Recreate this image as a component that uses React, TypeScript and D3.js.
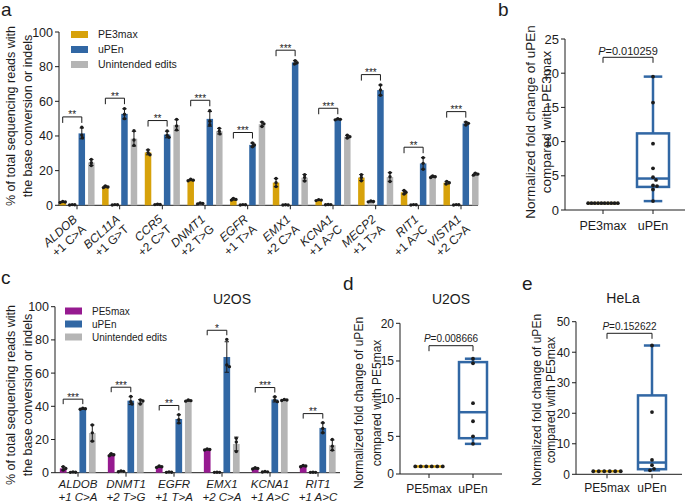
import React from "react";
import * as d3 from "d3";

const FONT = "'Liberation Sans', Arial, Helvetica, sans-serif";
const GOLD = "#D7A20B";
const BLUE = "#3167A4";
const GRAY = "#B5B5B5";
const PURPLE = "#961A90";
const INK = "#1c1c1c";

// ---------- Panel a ----------
const genesA = ["ALDOB", "BCL11A", "CCR5", "DNMT1", "EGFR", "EMX1", "KCNA1", "MECP2", "RIT1", "VISTA1"];
const editsA = ["+1 C>A", "+1 G>T", "+2 C>T", "+2 T>G", "+1 T>A", "+2 C>A", "+1 A>C", "+1 T>A", "+1 A>C", "+2 C>A"];
const pe3maxA = [[2.2, 1.9, 1.6], [11.2, 10.6, 10.2], [32, 30.4, 29.2], [15, 14.5, 14.2], [4, 3.4, 3.0], [15.5, 13, 10.8], [3.3, 3, 2.7], [17.7, 16.1, 14.2], [8.5, 7.5, 6.5], [13.8, 13, 12.3]];
const pe3maxUnintendedA = [[0.4, 0.3, 0.2], [0.4, 0.3, 0.2], [0.6, 0.5, 0.4], [1.3, 1.0, 0.8], [0.4, 0.3, 0.2], [0.3, 0.2, 0.2], [0.5, 0.4, 0.3], [2.5, 2.2, 2.0], [0.4, 0.3, 0.2], [0.4, 0.3, 0.2]];
const uPEnA = [[45, 40.5, 39], [55.8, 52.5, 50], [42.9, 40.4, 39.2], [54.6, 48.5, 46.5], [36, 34.8, 33.8], [83.5, 82.3, 81.5], [50, 49.6, 49.3], [69.4, 66.5, 63.5], [27.5, 24.2, 20.8], [48, 47.3, 46.3]];
const uPEnUnintendedA = [[26.5, 24.6, 23], [43, 37.7, 34.6], [49.6, 45.8, 43.5], [44.4, 42.7, 41.2], [48, 47, 45.5], [17.7, 16.1, 14], [40.4, 39.6, 38.8], [18.8, 16.5, 13.7], [17, 16.5, 16], [18.5, 18, 17.4]];
const sigA = ["**", "**", "**", "***", "***", "***", "***", "***", "**", "***"];
const yTicksA = [0, 20, 40, 60, 80, 100];
const legendA = ["PE3max", "uPEn", "Unintended edits"];

// ---------- Panel c ----------
const genesC = ["ALDOB", "DNMT1", "EGFR", "EMX1", "KCNA1", "RIT1"];
const editsC = ["+1 C>A", "+2 T>G", "+1 T>A", "+2 C>A", "+1 A>C", "+1 A>C"];
const pe5maxC = [[3.6, 2.6, 1.6], [11.4, 10.8, 10.2], [4, 3.6, 3.2], [14.3, 14, 13.7], [3, 2.6, 2.2], [4.4, 4, 3.6]];
const pe5maxUnintendedC = [[0.4, 0.3, 0.2], [1, 0.8, 0.6], [0.4, 0.3, 0.2], [0.3, 0.2, 0.2], [0.7, 0.5, 0.4], [0.3, 0.2, 0.2]];
const uPEnC = [[38.8, 38.5, 38.2], [46, 42.8, 41.4], [35, 32, 30], [80.3, 64.9, 63.9], [45.8, 43.8, 42.8], [30.1, 26.7, 24.1]];
const uPEnUnintendedC = [[28.7, 24, 19], [43.8, 43.2, 41.4], [43.8, 43.4, 43.1], [20.7, 18.5, 12.7], [44.1, 43.8, 43.5], [20, 16, 13.7]];
const sigC = ["***", "***", "**", "*", "***", "**"];
const yTicksC = [0, 20, 40, 60, 80, 100];
const legendC = ["PE5max", "uPEn", "Unintended edits"];
const titleC = "U2OS";

// ---------- Panel b ----------
const groupsB = ["PE3max", "uPEn"];
const pe3maxB = [1, 1, 1, 1, 1, 1, 1, 1, 1, 1];
const uPEnB = [19.5, 15.7, 9.7, 6.1, 4.8, 4.4, 3.6, 3.5, 3.0, 1.3];
const pB = "0.010259";
const yTicksB = [0, 5, 10, 15, 20, 25];

// ---------- Panel d ----------
const groupsD = ["PE5max", "uPEn"];
const pe5maxD = [1, 1, 1, 1, 1, 1];
const uPEnD = [15.3, 14.7, 9.4, 7.0, 5.0, 4.0];
const pD = "0.008666";
const yTicksD = [0, 5, 10, 15, 20];
const titleD = "U2OS";

// ---------- Panel e ----------
const groupsE = ["PE5max", "uPEn"];
const pe5maxE = [1, 1, 1, 1, 1, 1];
const uPEnE = [42.2, 20.4, 4.7, 3.0, 1.8, 1.3];
const pE = "0.152622";
const yTicksE = [0, 10, 20, 30, 40, 50];
const titleE = "HeLa";

const yLabelBar = ["% of total sequencing reads with", "the base conversion or indels"];
const yLabelBoxB = ["Normalized fold change of uPEn", "compared with PE3max"];
const yLabelBoxDE = ["Normalized fold change of uPEn", "compared with PE5max"];

// ---------- helpers ----------
function swarm(ys: number[], s: number): number[] {
  const placed: { x: number; y: number }[] = [];
  const offs: number[] = [];
  const step = s / 4;
  ys.forEach((y) => {
    let chosen = 0;
    for (let k = 0; k < 200; k++) {
      const cands = k === 0 ? [0] : [k * step, -k * step];
      let ok = false;
      for (const c of cands) {
        if (placed.every((p) => (p.x - c) ** 2 + (p.y - y) ** 2 >= s * s - 1e-6)) {
          chosen = c;
          ok = true;
          break;
        }
      }
      if (ok) break;
    }
    placed.push({ x: chosen, y });
    offs.push(chosen);
  });
  const groups = d3.group(ys.map((y, i) => i), (i) => Math.round(ys[i] * 10) / 10);
  groups.forEach((idx) => {
    if (idx.length > 1) {
      const m = d3.mean(idx, (i) => offs[i]) as number;
      idx.forEach((i) => (offs[i] -= m));
    }
  });
  return offs;
}

function prismQ(vals: number[], p: number): number {
  const s = [...vals].sort((a, b) => a - b);
  const n = s.length;
  let pos = p * (n + 1);
  if (pos < 1) pos = 1;
  if (pos > n) pos = n;
  const lo = Math.floor(pos);
  const frac = pos - lo;
  if (lo >= n) return s[n - 1];
  return s[lo - 1] + frac * (s[lo] - s[lo - 1]);
}

type BarProps = {
  x0: number; xEnd: number; yZero: number; yTop: number;
  c0: number; c1: number;
  genes: string[]; edits: string[];
  series: number[][][]; colors: string[];
  offsets: number[]; barW: number;
  sig: string[]; sigPad: number; legLen: number;
  ticks: number[]; tickFont: number;
  legend: string[]; legendColors: string[];
  legX: number; legY: number; legStep: number; legFont: number;
  rotated: boolean; labelFont: number; labelOff: number;
  yLabX: number[]; yLabCy: number; yLabFont: number;
};

function BarPanel(p: BarProps) {
  const y = d3.scaleLinear().domain([0, 100]).range([p.yZero, p.yTop]);
  const x = d3.scalePoint<string>().domain(p.genes).range([p.c0, p.c1]);
  const els: React.ReactNode[] = [];
  p.genes.forEach((g, gi) => {
    const cx = x(g) as number;
    p.series.forEach((ser, si) => {
      const pts = ser[gi];
      const m = d3.mean(pts) as number;
      const sd = (d3.deviation(pts) as number) || 0;
      const bx = cx + p.offsets[si];
      els.push(
        <rect key={`b${gi}-${si}`} x={bx - p.barW / 2} y={y(m)} width={p.barW} height={p.yZero - y(m)} fill={p.colors[si]} />
      );
      els.push(
        <g key={`e${gi}-${si}`} stroke={INK} strokeWidth={1}>
          <line x1={bx} x2={bx} y1={y(m + sd)} y2={y(Math.max(0, m - sd))} />
          <line x1={bx - 2.2} x2={bx + 2.2} y1={y(m + sd)} y2={y(m + sd)} />
          <line x1={bx - 2.2} x2={bx + 2.2} y1={y(Math.max(0, m - sd))} y2={y(Math.max(0, m - sd))} />
        </g>
      );
      const ys = pts.map((v) => y(v));
      const offs = swarm(ys, 2.6);
      pts.forEach((v, k) => {
        els.push(<circle key={`p${gi}-${si}-${k}`} cx={bx + offs[k]} cy={y(v)} r={1.7} fill={INK} />);
      });
    });
    const up = p.series[2][gi];
    const top = Math.max(d3.max(up) as number, (d3.mean(up) as number) + ((d3.deviation(up) as number) || 0));
    const by = y(top + p.sigPad);
    const xa = cx + p.offsets[0];
    const xb = cx + p.offsets[2];
    els.push(
      <path key={`s${gi}`} d={`M${xa},${by + p.legLen}V${by}H${xb}V${by + p.legLen}`} fill="none" stroke={INK} strokeWidth={1} />
    );
    els.push(
      <text key={`st${gi}`} x={(xa + xb) / 2} y={by + 1.5} textAnchor="middle" fontSize={10} fill={INK}>
        {p.sig[gi]}
      </text>
    );
    els.push(<line key={`xt${gi}`} x1={cx} x2={cx} y1={p.yZero} y2={p.yZero + 4} stroke={INK} strokeWidth={1} />);
    if (p.rotated) {
      els.push(
        <text key={`xl${gi}`} transform={`translate(${cx + 1},${p.yZero + p.labelOff}) rotate(-42)`} textAnchor="end" fontSize={p.labelFont} fill={INK}>
          <tspan x={0} dy={0} fontStyle="italic">{g}</tspan>
          <tspan x={0} dy="1.1em">{p.edits[gi]}</tspan>
        </text>
      );
    } else {
      els.push(
        <g key={`xl${gi}`}>
          <text x={cx} y={p.yZero + p.labelOff} textAnchor="middle" fontSize={p.labelFont} fontStyle="italic" fill={INK}>{g}</text>
          <text x={cx} y={p.yZero + p.labelOff + p.labelFont * 1.12} textAnchor="middle" fontSize={p.labelFont} fontStyle="italic" fill={INK}>{p.edits[gi]}</text>
        </g>
      );
    }
  });
  return (
    <g>
      <line x1={p.x0} x2={p.x0} y1={p.yTop} y2={p.yZero} stroke={INK} strokeWidth={1} />
      <line x1={p.x0} x2={p.xEnd} y1={p.yZero} y2={p.yZero} stroke={INK} strokeWidth={1} />
      {p.ticks.map((t) => (
        <g key={`yt${t}`}>
          <line x1={p.x0 - 4} x2={p.x0} y1={y(t)} y2={y(t)} stroke={INK} strokeWidth={1} />
          <text x={p.x0 - 6} y={y(t)} dy="0.36em" textAnchor="end" fontSize={p.tickFont} fill={INK}>{t}</text>
        </g>
      ))}
      {els}
      {p.legend.map((l, i) => (
        <g key={`lg${i}`}>
          <rect x={p.legX} y={p.legY + i * p.legStep - 3.5} width={17} height={7} fill={p.legendColors[i]} />
          <text x={p.legX + 27} y={p.legY + i * p.legStep} dy="0.36em" fontSize={p.legFont} fill={INK}>{l}</text>
        </g>
      ))}
      <text transform={`translate(0,${p.yLabCy}) rotate(-90)`} textAnchor="middle" fontSize={p.yLabFont} fill={INK}>
        <tspan x={0} y={p.yLabX[0]} dy="0.36em">{yLabelBar[0]}</tspan>
        <tspan x={0} y={p.yLabX[1]} dy="0.36em">{yLabelBar[1]}</tspan>
      </text>
    </g>
  );
}

type BoxProps = {
  x0: number; xEnd: number; yZero: number; yTop: number; yMax: number;
  ticks: number[]; c: number[]; boxW: number; groups: string[];
  ctrl: number[]; up: number[]; pText: string;
  pBase: number; bracketY: number; legLen: number; pFont: number;
  tickFont: number; labelFont: number; labelBase: number;
  yLab: string[]; yLabX: number[]; yLabCy: number; yLabFont: number;
  dotS: number;
};

function BoxPanel(p: BoxProps) {
  const y = d3.scaleLinear().domain([0, p.yMax]).range([p.yZero, p.yTop]);
  const x = d3.scalePoint<string>().domain(p.groups).range([p.c[0], p.c[1]]);
  const cC = x(p.groups[0]) as number;
  const cU = x(p.groups[1]) as number;
  const q1 = prismQ(p.up, 0.25), med = prismQ(p.up, 0.5), q3 = prismQ(p.up, 0.75);
  const mn = d3.min(p.up) as number, mx = d3.max(p.up) as number;
  const capW = p.boxW * 0.58;
  const hw = p.boxW / 2;
  const offC = swarm(p.ctrl.map((v) => y(v)), p.dotS);
  const offU = swarm(p.up.map((v) => y(v)), 4);
  const cMed = prismQ(p.ctrl, 0.5);
  return (
    <g>
      <line x1={p.x0} x2={p.x0} y1={p.yTop} y2={p.yZero} stroke={INK} strokeWidth={1} />
      <line x1={p.x0} x2={p.xEnd} y1={p.yZero} y2={p.yZero} stroke={INK} strokeWidth={1} />
      {p.ticks.map((t) => (
        <g key={`yt${t}`}>
          <line x1={p.x0 - 4} x2={p.x0} y1={y(t)} y2={y(t)} stroke={INK} strokeWidth={1} />
          <text x={p.x0 - 6} y={y(t)} dy="0.36em" textAnchor="end" fontSize={p.tickFont} fill={INK}>{t}</text>
        </g>
      ))}
      {[cC, cU].map((cx, i) => (
        <g key={`xt${i}`}>
          <line x1={cx} x2={cx} y1={p.yZero} y2={p.yZero + 4} stroke={INK} strokeWidth={1} />
          <text x={cx} y={p.labelBase} textAnchor="middle" fontSize={p.labelFont} fill={INK}>{p.groups[i]}</text>
        </g>
      ))}
      <line x1={cC - hw} x2={cC + hw} y1={y(cMed)} y2={y(cMed)} stroke={GOLD} strokeWidth={2.5} />
      <g stroke={BLUE} strokeWidth={2.5} fill="none">
        <line x1={cU} x2={cU} y1={y(q3)} y2={y(mx)} />
        <line x1={cU} x2={cU} y1={y(q1)} y2={y(mn)} />
        <line x1={cU - capW / 2} x2={cU + capW / 2} y1={y(mx)} y2={y(mx)} />
        <line x1={cU - capW / 2} x2={cU + capW / 2} y1={y(mn)} y2={y(mn)} />
        <rect x={cU - hw} y={y(q3)} width={p.boxW} height={y(q1) - y(q3)} fill="#fff" />
        <line x1={cU - hw} x2={cU + hw} y1={y(med)} y2={y(med)} />
      </g>
      {p.ctrl.map((v, i) => (
        <circle key={`c${i}`} cx={cC + offC[i]} cy={y(v)} r={1.9} fill={INK} />
      ))}
      {p.up.map((v, i) => (
        <circle key={`u${i}`} cx={cU + offU[i]} cy={y(v)} r={1.9} fill={INK} />
      ))}
      <path d={`M${cC},${p.bracketY + p.legLen}V${p.bracketY}H${cU}V${p.bracketY + p.legLen}`} fill="none" stroke={INK} strokeWidth={1} />
      <text x={(cC + cU) / 2} y={p.pBase} textAnchor="middle" fontSize={p.pFont} fill={INK}>
        <tspan fontStyle="italic">P</tspan>={p.pText}
      </text>
      <text transform={`translate(0,${p.yLabCy}) rotate(-90)`} textAnchor="middle" fontSize={p.yLabFont} fill={INK}>
        <tspan x={0} y={p.yLabX[0]} dy="0.36em">{p.yLab[0]}</tspan>
        <tspan x={0} y={p.yLabX[1]} dy="0.36em">{p.yLab[1]}</tspan>
      </text>
    </g>
  );
}

export default function App() {
  return (
    <svg width={685} height={502} viewBox="0 0 685 502" style={{ position: "absolute", left: 0, top: 0, background: "#fff" }} fontFamily={FONT}>
      <rect x={0} y={0} width={685} height={502} fill="#fff" />
      <text x={1} y={16} fontSize={19} fill={INK}>a</text>
      <text x={498} y={16} fontSize={19} fill={INK}>b</text>
      <text x={1} y={284} fontSize={19} fill={INK}>c</text>
      <text x={343} y={290} fontSize={19} fill={INK}>d</text>
      <text x={522} y={290} fontSize={19} fill={INK}>e</text>

      <BarPanel
        x0={59} xEnd={478} yZero={205.3} yTop={32} c0={77} c1={461}
        genes={genesA} edits={editsA}
        series={[pe3maxA, pe3maxUnintendedA, uPEnA, uPEnUnintendedA]}
        colors={[GOLD, GRAY, BLUE, GRAY]}
        offsets={[-14.3, -4.8, 4.8, 14.3]} barW={6.5}
        sig={sigA} sigPad={6} legLen={6}
        ticks={yTicksA} tickFont={12.5}
        legend={legendA} legendColors={[GOLD, BLUE, GRAY]}
        legX={71} legY={34.5} legStep={15} legFont={10.5}
        rotated={true} labelFont={12} labelOff={15}
        yLabX={[10, 27]} yLabCy={116} yLabFont={12.5}
      />

      <BarPanel
        x0={55} xEnd={340} yZero={472.7} yTop={306.7} c0={78} c1={318}
        genes={genesC} edits={editsC}
        series={[pe5maxC, pe5maxUnintendedC, uPEnC, uPEnUnintendedC]}
        colors={[PURPLE, GRAY, BLUE, GRAY]}
        offsets={[-14.8, -5, 4.8, 14.3]} barW={6.7}
        sig={sigC} sigPad={5.5} legLen={5}
        ticks={yTicksC} tickFont={12.5}
        legend={legendC} legendColors={[PURPLE, BLUE, GRAY]}
        legX={65} legY={311} legStep={13} legFont={10}
        rotated={false} labelFont={11.5} labelOff={15}
        yLabX={[10, 27]} yLabCy={395} yLabFont={12.5}
      />
      <text x={232} y={304} textAnchor="middle" fontSize={14} fill={INK}>{titleC}</text>

      <BoxPanel
        x0={565} xEnd={685} yZero={210} yTop={39} yMax={25}
        ticks={yTicksB} c={[603, 653]} boxW={32} groups={groupsB}
        ctrl={pe3maxB} up={uPEnB} pText={pB}
        pBase={55} bracketY={57.3} legLen={5.5} pFont={11}
        tickFont={13} labelFont={12.5} labelBase={230}
        yLab={yLabelBoxB} yLabX={[530, 546]} yLabCy={122} yLabFont={13.5}
        dotS={3.3}
      />

      <BoxPanel
        x0={400} xEnd={502} yZero={474} yTop={323.3} yMax={20}
        ticks={yTicksD} c={[429, 473]} boxW={28} groups={groupsD}
        ctrl={pe5maxD} up={uPEnD} pText={pD}
        pBase={342} bracketY={345.7} legLen={5.5} pFont={10}
        tickFont={12} labelFont={12} labelBase={493}
        yLab={yLabelBoxDE} yLabX={[359, 377]} yLabCy={403} yLabFont={12}
        dotS={5.5}
      />
      <text x={451} y={304} textAnchor="middle" fontSize={14} fill={INK}>{titleD}</text>

      <BoxPanel
        x0={576} xEnd={682} yZero={474.3} yTop={321.7} yMax={50}
        ticks={yTicksE} c={[607, 652]} boxW={28} groups={groupsE}
        ctrl={pe5maxE} up={uPEnE} pText={pE}
        pBase={330} bracketY={333.3} legLen={5.5} pFont={10}
        tickFont={12} labelFont={12} labelBase={492}
        yLab={yLabelBoxDE} yLabX={[537, 551]} yLabCy={400} yLabFont={12}
        dotS={5.5}
      />
      <text x={623} y={303} textAnchor="middle" fontSize={14} fill={INK}>{titleE}</text>
    </svg>
  );
}
